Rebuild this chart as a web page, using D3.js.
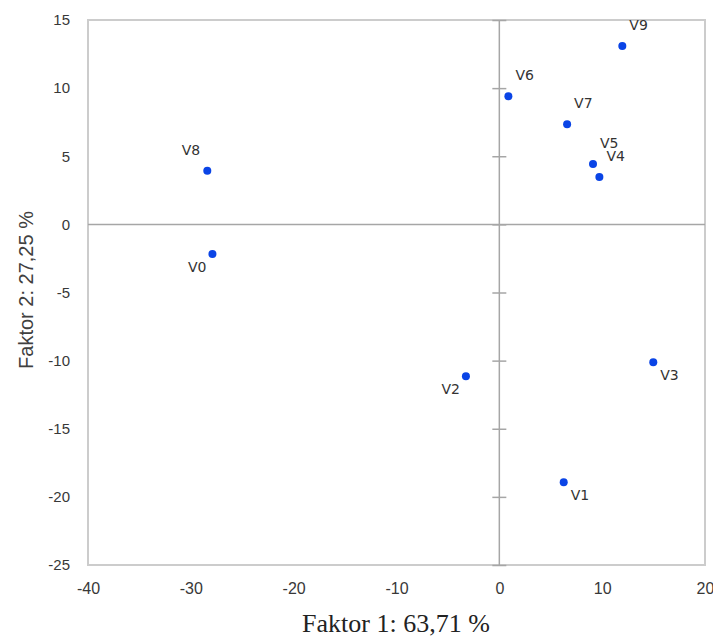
<!DOCTYPE html>
<html>
<head>
<meta charset="utf-8">
<script src="https://cdn.jsdelivr.net/npm/d3@7"></script>
<style>
  html, body { margin: 0; padding: 0; background: #fff; }
  svg { display: block; }
</style>
</head>
<body>
<svg id="chart" width="713" height="637"></svg>
<script>
// ---- data ----
const labels = ["V0", "V1", "V2", "V3", "V4", "V5", "V6", "V7", "V8", "V9"];
const faktor1 = [-27.9, 6.26, -3.25, 14.97, 9.73, 9.11, 0.88, 6.59, -28.4, 11.96];
const faktor2 = [-2.17, -18.92, -11.15, -10.12, 3.48, 4.43, 9.4, 7.34, 3.94, 13.09];
const xTicks = [-40, -30, -20, -10, 0, 10, 20];
const yTicks = [-25, -20, -15, -10, -5, 0, 5, 10, 15];
const xTitle = "Faktor 1: 63,71 %";
const yTitle = "Faktor 2: 27,25 %";
// label placement relative to the point (layout only)
const labelSide = ["sw", "se", "sw", "se", "ne", "ne", "ne", "ne", "nw", "ne"];

// ---- layout ----
const svg = d3.select("#chart");
const L = 88, T = 20, W = 617, H = 545;
const x = d3.scaleLinear().domain([-40, 20]).range([L, L + W]);
const y = d3.scaleLinear().domain([-25, 15]).range([T + H, T]);
const fmt = d => String(d); // plain hyphen-minus like the reference

svg.append("defs").append("clipPath").attr("id", "plotclip")
  .append("rect").attr("x", L).attr("y", T).attr("width", W).attr("height", H);

// frame
svg.append("rect")
  .attr("x", L).attr("y", T).attr("width", W).attr("height", H)
  .attr("fill", "none").attr("stroke", "#cccccc").attr("stroke-width", 2);

// zero lines
svg.append("line")
  .attr("x1", L).attr("x2", L + W).attr("y1", y(0)).attr("y2", y(0))
  .attr("stroke", "#a6a6a6").attr("stroke-width", 1.5);
svg.append("line")
  .attr("x1", x(0)).attr("x2", x(0)).attr("y1", T).attr("y2", T + H)
  .attr("stroke", "#a6a6a6").attr("stroke-width", 1.5);

// tick marks crossing the vertical zero line
const yAxisTicks = d3.axisRight(y).tickValues(yTicks).tickSize(7).tickFormat("");
const gTicks = svg.append("g").attr("transform", `translate(${x(0)},0)`).call(yAxisTicks);
gTicks.select(".domain").remove();
gTicks.selectAll(".tick line").attr("x1", -7).attr("x2", 7)
  .attr("stroke", "#a6a6a6").attr("stroke-width", 1.5);

// y tick labels
const yAxis = d3.axisLeft(y).tickValues(yTicks).tickSize(0).tickPadding(0).tickFormat(fmt);
const gy = svg.append("g").attr("transform", `translate(70,0)`).call(yAxis);
gy.select(".domain").remove();
gy.selectAll("text")
  .attr("font-family", "Liberation Sans, Arial, sans-serif")
  .attr("font-size", 15).attr("fill", "#383838");

// x tick labels
const xAxis = d3.axisBottom(x).tickValues(xTicks).tickSize(0).tickPadding(0).tickFormat(fmt);
const gx = svg.append("g").attr("transform", `translate(0,583)`).call(xAxis);
gx.select(".domain").remove();
gx.selectAll("text")
  .attr("font-family", "Liberation Sans, Arial, sans-serif")
  .attr("font-size", 16).attr("fill", "#383838").attr("dy", "0.71em");

// titles
svg.append("text")
  .attr("x", 396).attr("y", 632)
  .attr("text-anchor", "middle")
  .attr("font-family", "Liberation Serif, Times New Roman, serif")
  .attr("font-size", 26).attr("fill", "#222")
  .text(xTitle);
svg.append("text")
  .attr("transform", "translate(33,290) rotate(-90)")
  .attr("text-anchor", "middle")
  .attr("font-family", "Liberation Sans, Arial, sans-serif")
  .attr("font-size", 20).attr("fill", "#404040")
  .text(yTitle);

// points
const pts = labels.map((l, i) => ({ label: l, fx: faktor1[i], fy: faktor2[i], side: labelSide[i] }));
const gp = svg.append("g").attr("clip-path", "url(#plotclip)");
gp.selectAll("circle").data(pts).join("circle")
  .attr("cx", d => x(d.fx)).attr("cy", d => y(d.fy))
  .attr("r", 4).attr("fill", "#0a44e6");

const off = {
  ne: { dx: 7, dy: -21, anchor: "start" },
  se: { dx: 7, dy: 13, anchor: "start" },
  sw: { dx: -6, dy: 13, anchor: "end" },
  nw: { dx: -7, dy: -21, anchor: "end" }
};
gp.selectAll("text").data(pts).join("text")
  .attr("x", d => x(d.fx) + off[d.side].dx)
  .attr("y", d => y(d.fy) + off[d.side].dy)
  .attr("dy", "0.36em")
  .attr("text-anchor", d => off[d.side].anchor)
  .attr("font-family", "DejaVu Sans, Verdana, sans-serif")
  .attr("font-size", 14).attr("fill", "#333")
  .text(d => d.label);
</script>
</body>
</html>
